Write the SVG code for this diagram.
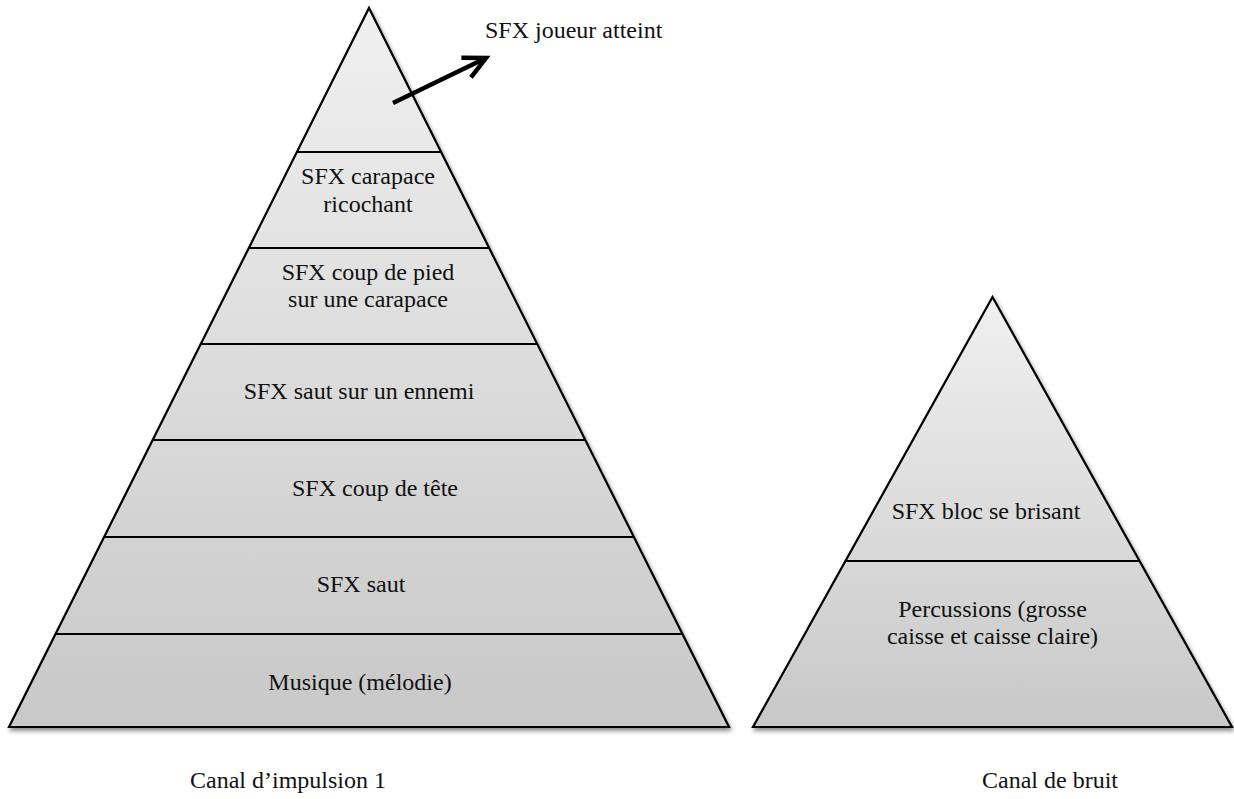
<svg xmlns="http://www.w3.org/2000/svg" width="1234" height="799" viewBox="0 0 1234 799">
<style>
text{font-family:"Liberation Serif","Times New Roman",serif;font-size:24px;fill:#111;text-anchor:middle}
.tri{stroke:#000;stroke-width:2.2;stroke-linejoin:miter;fill:url(#g)}
.band{stroke:#000;stroke-width:1.8;fill:none}
.arr{stroke:#000;stroke-width:4.5;fill:none}
</style>
<defs>
<linearGradient id="g" x1="0" y1="0" x2="0" y2="1">
<stop offset="0" stop-color="#f0f0f0"/>
<stop offset="1" stop-color="#c8c8c8"/>
</linearGradient>
<filter id="sh" x="-10%" y="-10%" width="120%" height="120%">
<feDropShadow dx="1.5" dy="3" stdDeviation="2" flood-color="#000" flood-opacity="0.45"/>
</filter>
<marker id="head" markerUnits="userSpaceOnUse" markerWidth="40" markerHeight="40" viewBox="-30 -20 40 40" refX="0" refY="0" orient="auto">
<path d="M -22 -11 L 0 0 L -22 11" stroke="#000" stroke-width="4.5" fill="none" stroke-linejoin="miter"/>
</marker>
</defs>
<g id="pyramid-impulsion">
<polygon class="tri" filter="url(#sh)" points="369,8 729,727 9,727"/>
<line class="band" x1="297" y1="152" x2="441" y2="152"/>
<line class="band" x1="249" y1="248" x2="489" y2="248"/>
<line class="band" x1="201" y1="344" x2="537" y2="344"/>
<line class="band" x1="153" y1="440" x2="585" y2="440"/>
<line class="band" x1="104" y1="537" x2="634" y2="537"/>
<line class="band" x1="56" y1="634" x2="682" y2="634"/>
</g>
<g id="pyramid-bruit">
<polygon class="tri" filter="url(#sh)" points="992.5,297 1232,727 753,727"/>
<line class="band" x1="846" y1="561" x2="1139" y2="561"/>
</g>
<g id="connectors">
<line class="arr" x1="393" y1="103" x2="486" y2="58" marker-end="url(#head)"/>
</g>
<g id="node-joueur"><text x="485" y="38" style="text-anchor:start">SFX joueur atteint</text></g>
<g id="node-carapace-ricochant"><text x="368" y="184">SFX carapace</text><text x="368" y="212">ricochant</text></g>
<g id="node-coup-pied"><text x="368" y="280">SFX coup de pied</text><text x="368" y="307">sur une carapace</text></g>
<g id="node-saut-ennemi"><text x="359" y="399">SFX saut sur un ennemi</text></g>
<g id="node-coup-tete"><text x="375" y="496">SFX coup de tête</text></g>
<g id="node-saut"><text x="361" y="592">SFX saut</text></g>
<g id="node-musique"><text x="360" y="690">Musique (mélodie)</text></g>
<g id="node-bloc"><text x="986" y="519">SFX bloc se brisant</text></g>
<g id="node-percussions"><text x="992.5" y="617">Percussions (grosse</text><text x="992.5" y="644">caisse et caisse claire)</text></g>
<g id="label-impulsion"><text x="288" y="788">Canal d’impulsion 1</text></g>
<g id="label-bruit"><text x="1050" y="788">Canal de bruit</text></g>
</svg>
